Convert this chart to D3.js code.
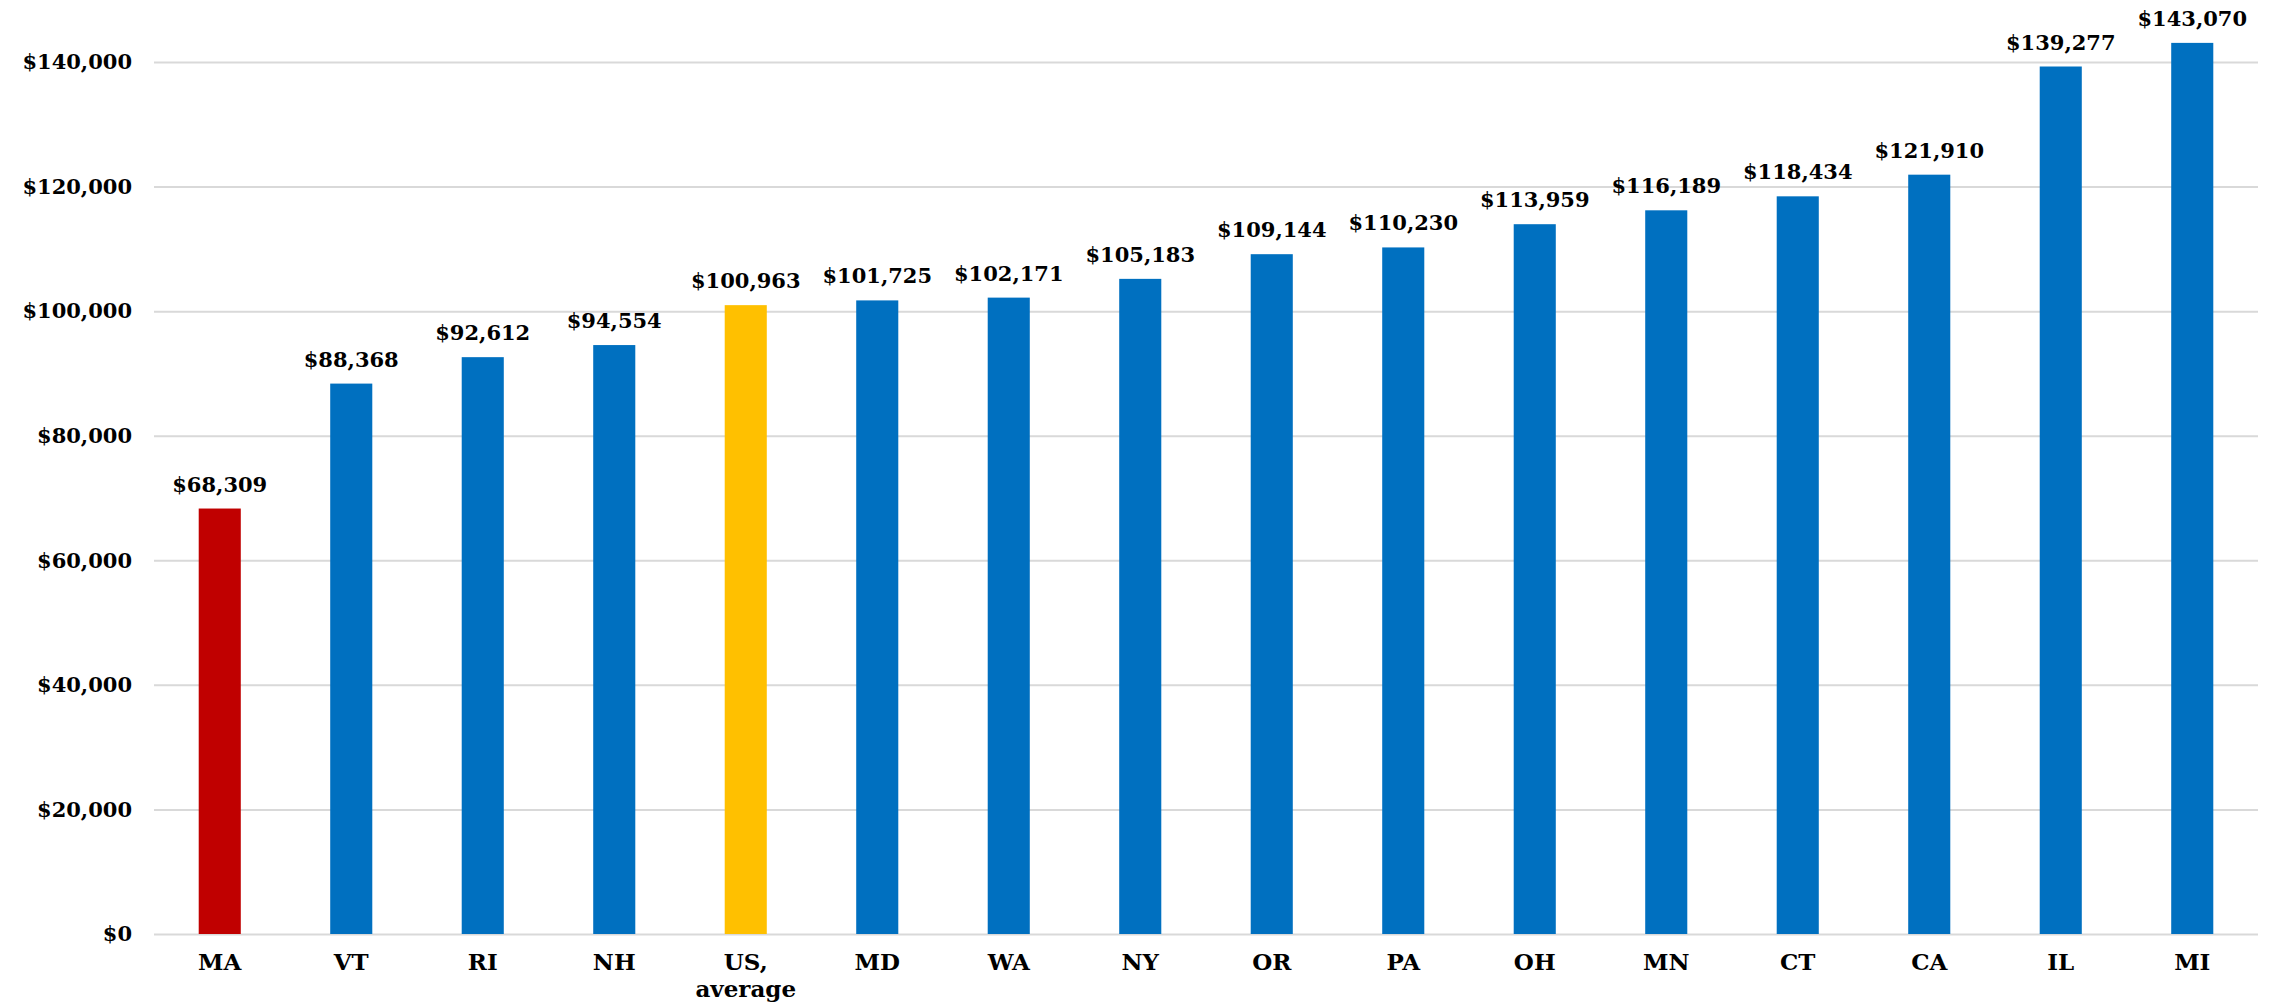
<!DOCTYPE html>
<html>
<head>
<meta charset="utf-8">
<script src="https://cdn.jsdelivr.net/npm/d3@7"></script>
<style>
  body { margin: 0; background: #fff; }
  text { font-family: Georgia, "DejaVu Serif", serif; font-weight: bold; fill: #000; }
</style>
</head>
<body>
<script>
// chart data
var states = ["MA", "VT", "RI", "NH", "US, average", "MD", "WA", "NY", "OR", "PA", "OH", "MN", "CT", "CA", "IL", "MI"];
var values = [68309, 88368, 92612, 94554, 100963, 101725, 102171, 105183, 109144, 110230, 113959, 116189, 118434, 121910, 139277, 143070];
var barColors = ["#C00000", "#0070C0", "#0070C0", "#0070C0", "#FFC000", "#0070C0", "#0070C0", "#0070C0", "#0070C0", "#0070C0", "#0070C0", "#0070C0", "#0070C0", "#0070C0", "#0070C0", "#0070C0"];
var yTicks = [0, 20000, 40000, 60000, 80000, 100000, 120000, 140000];

var width = 2270,
    height = 1005;

// plot area edges
var plotLeft = 154, plotRight = 2258, plotTop = 62, plotBottom = 934;

var svg = d3.select("body").append("svg")
    .attr("width", width)
    .attr("height", height);

var x = d3.scaleBand()
    .domain(states)
    .range([plotLeft, plotRight])
    .paddingInner(0.68)
    .paddingOuter(0.34);

var y = d3.scaleLinear()
    .domain([0, 140000])
    .range([plotBottom, plotTop]);

var fmt = function(v) { return "$" + d3.format(",")(v); };

// gridlines + y labels
var yAxis = svg.append("g")
    .attr("transform", "translate(" + plotLeft + ",0)")
    .call(d3.axisLeft(y).tickValues(yTicks).tickFormat(fmt)
        .tickSize(-(plotRight - plotLeft)).tickPadding(22));
yAxis.select(".domain").remove();
yAxis.selectAll("line").attr("stroke", "#D9D9D9").attr("stroke-width", 2);
yAxis.selectAll("text").attr("font-size", 21)
    .attr("fill", "#000")
    .style("font-family", "Georgia, 'DejaVu Serif', serif").style("font-weight", "bold");

// bars
svg.append("g").selectAll("rect")
    .data(values)
  .enter()
    .append("rect")
    .attr("x", function(d, i) { return x(states[i]); })
    .attr("y", function(d) { return y(d); })
    .attr("width", x.bandwidth())
    .attr("height", function(d) { return y(0) - y(d); })
    .attr("fill", function(d, i) { return barColors[i]; });

// value labels
svg.append("g").selectAll("text")
    .data(values)
  .enter()
    .append("text")
    .attr("x", function(d, i) { return x(states[i]) + x.bandwidth() / 2; })
    .attr("y", function(d) { return y(d) - 17; })
    .attr("text-anchor", "middle")
    .attr("font-size", 21)
    .text(fmt);

// category labels (split "US, average" over two lines)
var xl = svg.append("g").selectAll("text")
    .data(states)
  .enter()
    .append("text")
    .attr("x", function(d) { return x(d) + x.bandwidth() / 2; })
    .attr("y", 970)
    .attr("text-anchor", "middle")
    .attr("font-size", 23);
xl.each(function(d) {
    var parts = d.indexOf(", ") > 0 ? [d.split(", ")[0] + ",", d.split(", ")[1]] : [d];
    var t = d3.select(this);
    parts.forEach(function(p, j) {
        t.append("tspan")
            .attr("x", t.attr("x"))
            .attr("dy", j === 0 ? 0 : 27)
            .text(p);
    });
});
</script>
</body>
</html>
